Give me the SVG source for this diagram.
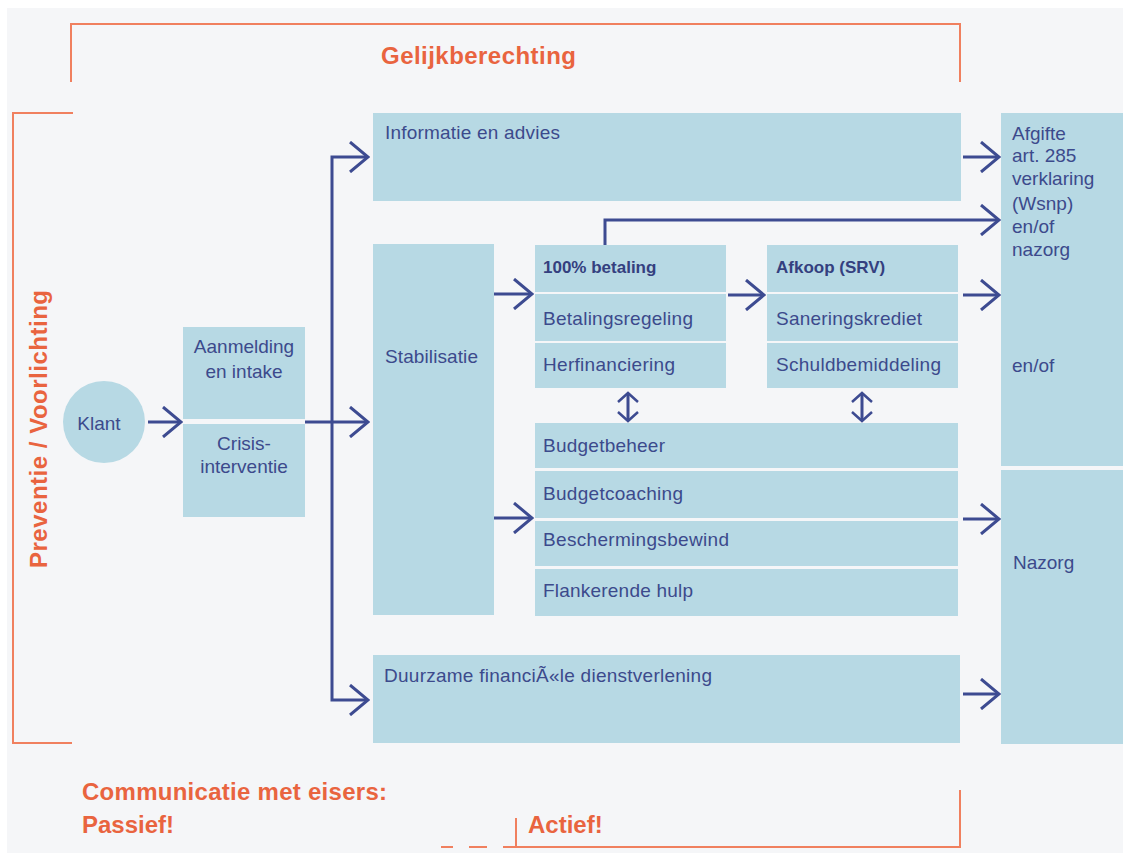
<svg xmlns="http://www.w3.org/2000/svg" width="1123" height="856" viewBox="0 0 1123 856">
<style>
.box{fill:#b7d9e4}
.t{font-family:"Liberation Sans",Arial,sans-serif;font-size:19px;fill:#3c4a8c}
.tb{font-family:"Liberation Sans",Arial,sans-serif;font-size:17px;font-weight:bold;fill:#34407f}
.o{font-family:"Liberation Sans",Arial,sans-serif;font-weight:bold;font-size:24px;fill:#e9643f}
.ln{stroke:#3d4b91;stroke-width:3;fill:none}
.ob{stroke:#f0805f;stroke-width:2;fill:none}
.c{text-anchor:middle}
</style>
<defs>
<marker id="ah" markerUnits="userSpaceOnUse" markerWidth="22" markerHeight="32" viewBox="0 0 22 32" refX="20" refY="16" orient="auto">
<path d="M2,1 L20,16 L2,31" fill="none" stroke="#3d4b91" stroke-width="3"/>
</marker>
<marker id="dh" markerUnits="userSpaceOnUse" markerWidth="14" markerHeight="24" viewBox="0 0 14 24" refX="11" refY="12" orient="auto-start-reverse">
<path d="M2,2 L11,12 L2,22" fill="none" stroke="#3d4b91" stroke-width="2.5"/>
</marker>
</defs>
<rect x="0" y="0" width="1123" height="856" fill="#ffffff"/>
<rect x="7" y="8" width="1116" height="845" fill="#f5f6f8"/>

<g id="frames">
<path class="ob" d="M71,82 V24 H960 V82"/>
<path class="ob" d="M73,113 H13 V743 H72"/>
<path class="ob" d="M516,818 V847 H960 V790"/>
<path class="ob" d="M441,847 H453 M469,847 H487 M503,847 H516"/>
</g>

<g id="labels">
<text class="o" x="381" y="64" textLength="195">Gelijkberechting</text>
<text class="o" transform="translate(47,568) rotate(-90)" x="0" y="0" textLength="278">Preventie / Voorlichting</text>
<text class="o" x="82" y="800" textLength="305">Communicatie met eisers:</text>
<text class="o" x="82" y="833">Passief!</text>
<text class="o" x="528" y="833">Actief!</text>
</g>

<g id="klant">
<circle class="box" cx="104" cy="422" r="41"/>
<text class="t c" x="99" y="430">Klant</text>
</g>

<g id="aanmelding">
<rect class="box" x="183" y="327" width="122" height="92"/>
<text class="t c" x="244" y="353">Aanmelding</text>
<text class="t c" x="244" y="378">en intake</text>
</g>
<g id="crisis">
<rect class="box" x="183" y="424" width="122" height="93"/>
<text class="t c" x="244" y="450">Crisis-</text>
<text class="t c" x="244" y="473">interventie</text>
</g>

<g id="informatie">
<rect class="box" x="373" y="113" width="588" height="88"/>
<text class="t" x="385" y="139" textLength="175">Informatie en advies</text>
</g>

<g id="stabilisatie">
<rect class="box" x="373" y="244" width="121" height="371"/>
<text class="t" x="385" y="363" textLength="93">Stabilisatie</text>
</g>

<g id="betaling100">
<rect class="box" x="535" y="245" width="191" height="47"/>
<text class="tb" x="543" y="273">100% betaling</text>
</g>
<g id="betalingsregeling">
<rect class="box" x="535" y="294" width="191" height="47"/>
<text class="t" x="543" y="325" textLength="150">Betalingsregeling</text>
</g>
<g id="herfinanciering">
<rect class="box" x="535" y="343" width="191" height="45"/>
<text class="t" x="543" y="371" textLength="132">Herfinanciering</text>
</g>

<g id="afkoop">
<rect class="box" x="767" y="245" width="191" height="47"/>
<text class="tb" x="776" y="273">Afkoop (SRV)</text>
</g>
<g id="saneringskrediet">
<rect class="box" x="767" y="294" width="191" height="47"/>
<text class="t" x="776" y="325" textLength="146">Saneringskrediet</text>
</g>
<g id="schuldbemiddeling">
<rect class="box" x="767" y="343" width="191" height="45"/>
<text class="t" x="776" y="371" textLength="165">Schuldbemiddeling</text>
</g>

<g id="budgetbeheer">
<rect class="box" x="535" y="423" width="423" height="45"/>
<text class="t" x="543" y="452" textLength="122">Budgetbeheer</text>
</g>
<g id="budgetcoaching">
<rect class="box" x="535" y="471" width="423" height="47"/>
<text class="t" x="543" y="500" textLength="140">Budgetcoaching</text>
</g>
<g id="beschermingsbewind">
<rect class="box" x="535" y="521" width="423" height="45"/>
<text class="t" x="543" y="546" textLength="186">Beschermingsbewind</text>
</g>
<g id="flankerende">
<rect class="box" x="535" y="569" width="423" height="47"/>
<text class="t" x="543" y="597" textLength="150">Flankerende hulp</text>
</g>

<g id="duurzame">
<rect class="box" x="373" y="655" width="587" height="88"/>
<text class="t" x="384" y="682" textLength="328">Duurzame financiÃ«le dienstverlening</text>
</g>

<g id="afgifte">
<rect class="box" x="1001" y="113" width="122" height="353"/>
<text class="t" x="1012" y="140">Afgifte</text>
<text class="t" x="1012" y="162">art. 285</text>
<text class="t" x="1012" y="185">verklaring</text>
<text class="t" x="1012" y="210">(Wsnp)</text>
<text class="t" x="1012" y="233">en/of</text>
<text class="t" x="1012" y="256">nazorg</text>
<text class="t" x="1012" y="372">en/of</text>
</g>
<g id="nazorg">
<rect class="box" x="1001" y="470" width="122" height="274"/>
<text class="t" x="1013" y="569">Nazorg</text>
</g>

<g id="connectors">
<path class="ln" d="M148,422 H181" marker-end="url(#ah)"/>
<path class="ln" d="M305,422 H368" stroke-width="3.5" marker-end="url(#ah)"/>
<path class="ln" d="M332,420 V157 H368" marker-end="url(#ah)"/>
<path class="ln" d="M332,420 V700 H368" marker-end="url(#ah)"/>
<path class="ln" d="M494,294 H532" marker-end="url(#ah)"/>
<path class="ln" d="M494,518 H532" marker-end="url(#ah)"/>
<path class="ln" d="M728,295 H764" marker-end="url(#ah)"/>
<path class="ln" d="M963,157 H999" marker-end="url(#ah)"/>
<path class="ln" d="M605,245 V220 H999" marker-end="url(#ah)"/>
<path class="ln" d="M963,295 H999" marker-end="url(#ah)"/>
<path class="ln" d="M963,519 H999" marker-end="url(#ah)"/>
<path class="ln" d="M963,694 H999" marker-end="url(#ah)"/>
<path class="ln" stroke-width="2.5" d="M628,393 V421" marker-start="url(#dh)" marker-end="url(#dh)"/>
<path class="ln" stroke-width="2.5" d="M862,393 V421" marker-start="url(#dh)" marker-end="url(#dh)"/>
</g>
</svg>
